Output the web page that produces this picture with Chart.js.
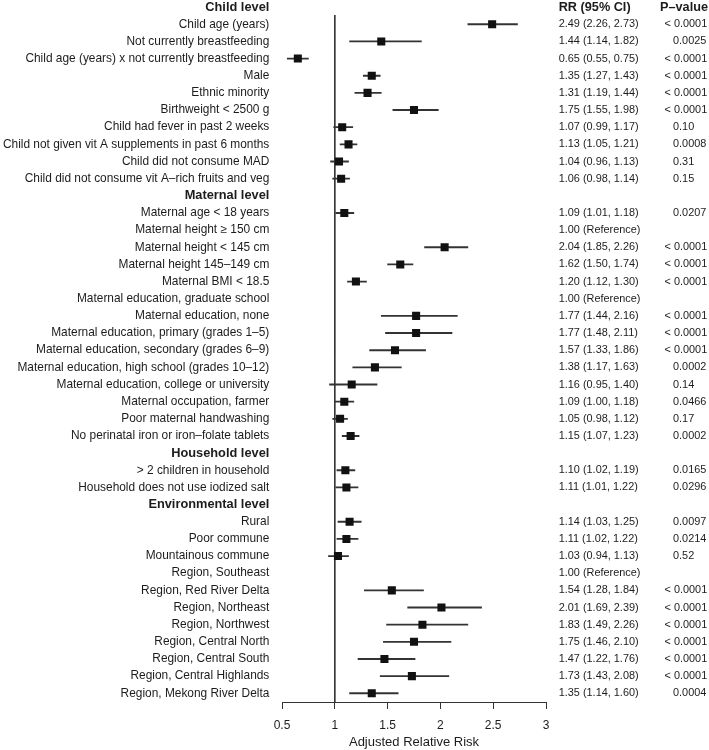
<!DOCTYPE html>
<html>
<head>
<meta charset="utf-8">
<script src="https://cdn.jsdelivr.net/npm/chart.js@4.4.1/dist/chart.umd.min.js"></script>
<style>
  html, body { margin: 0; padding: 0; background: #fff; }
</style>
</head>
<body>
<canvas id="forestChart" width="709" height="750"></canvas>
<script>
// rows, top to bottom
const rowLabels = [
  'Child level',
  'Child age (years)',
  'Not currently breastfeeding',
  'Child age (years) x not currently breastfeeding',
  'Male',
  'Ethnic minority',
  'Birthweight < 2500 g',
  'Child had fever in past 2 weeks',
  'Child not given vit A supplements in past 6 months',
  'Child did not consume MAD',
  'Child did not consume vit A\u2013rich fruits and veg',
  'Maternal level',
  'Maternal age < 18 years',
  'Maternal height \u2265 150 cm',
  'Maternal height < 145 cm',
  'Maternal height 145\u2013149 cm',
  'Maternal BMI < 18.5',
  'Maternal education, graduate school',
  'Maternal education, none',
  'Maternal education, primary (grades 1\u20135)',
  'Maternal education, secondary (grades 6\u20139)',
  'Maternal education, high school (grades 10\u201312)',
  'Maternal education, college or university',
  'Maternal occupation, farmer',
  'Poor maternal handwashing',
  'No perinatal iron or iron\u2013folate tablets',
  'Household level',
  '> 2 children in household',
  'Household does not use iodized salt',
  'Environmental level',
  'Rural',
  'Poor commune',
  'Mountainous commune',
  'Region, Southeast',
  'Region, Red River Delta',
  'Region, Northeast',
  'Region, Northwest',
  'Region, Central North',
  'Region, Central South',
  'Region, Central Highlands',
  'Region, Mekong River Delta'
];

const headerRows = ['Child level', 'Maternal level', 'Household level', 'Environmental level'];
const referenceRows = ['Maternal height \u2265 150 cm', 'Maternal education, graduate school', 'Region, Southeast'];

// adjusted RR and 95% CI (null = header / reference row)
const rr = [null, 2.49, 1.44, 0.65, 1.35, 1.31, 1.75, 1.07, 1.13, 1.04, 1.06,
  null, 1.09, null, 2.04, 1.62, 1.20, null, 1.77, 1.77, 1.57, 1.38, 1.16, 1.09, 1.05, 1.15,
  null, 1.10, 1.11,
  null, 1.14, 1.11, 1.03, null, 1.54, 2.01, 1.83, 1.75, 1.47, 1.73, 1.35];
const ciLow = [null, 2.26, 1.14, 0.55, 1.27, 1.19, 1.55, 0.99, 1.05, 0.96, 0.98,
  null, 1.01, null, 1.85, 1.50, 1.12, null, 1.44, 1.48, 1.33, 1.17, 0.95, 1.00, 0.98, 1.07,
  null, 1.02, 1.01,
  null, 1.03, 1.02, 0.94, null, 1.28, 1.69, 1.49, 1.46, 1.22, 1.43, 1.14];
const ciHigh = [null, 2.73, 1.82, 0.75, 1.43, 1.44, 1.98, 1.17, 1.21, 1.13, 1.14,
  null, 1.18, null, 2.26, 1.74, 1.30, null, 2.16, 2.11, 1.86, 1.63, 1.40, 1.18, 1.12, 1.23,
  null, 1.19, 1.22,
  null, 1.25, 1.22, 1.13, null, 1.84, 2.39, 2.26, 2.10, 1.76, 2.08, 1.60];
const pValues = ['', '< 0.0001', '0.0025', '< 0.0001', '< 0.0001', '< 0.0001', '< 0.0001', '0.10', '0.0008', '0.31', '0.15',
  '', '0.0207', '', '< 0.0001', '< 0.0001', '< 0.0001', '', '< 0.0001', '< 0.0001', '< 0.0001', '0.0002', '0.14', '0.0466', '0.17', '0.0002',
  '', '0.0165', '0.0296',
  '', '0.0097', '0.0214', '0.52', '', '< 0.0001', '< 0.0001', '< 0.0001', '< 0.0001', '< 0.0001', '< 0.0001', '0.0004'];

const xTicks = [0.5, 1, 1.5, 2, 2.5, 3];

const FONT = "'Liberation Sans', Arial, Helvetica, sans-serif";
const TEXT = '#1c1c1c';
const LINE = '#333';

const isHeader = i => headerRows.includes(rowLabels[i]);

const ciData = [];
const pointData = [];
rowLabels.forEach((lab, i) => {
  if (rr[i] === null) return;
  ciData.push({ y: i, x: [ciLow[i], ciHigh[i]] });
  pointData.push({ x: rr[i], y: i });
});

function rrText(i) {
  if (referenceRows.includes(rowLabels[i])) return '1.00 (Reference)';
  if (rr[i] === null) return '';
  return rr[i].toFixed(2) + ' (' + ciLow[i].toFixed(2) + ', ' + ciHigh[i].toFixed(2) + ')';
}

// RR / P-value columns on the right
const tableColumns = {
  id: 'tableColumns',
  afterDraw(chart) {
    const { ctx, chartArea, scales: { y } } = chart;
    const rrX = chartArea.right + 12.7;
    const pX = chartArea.right + 127;
    ctx.save();
    ctx.fillStyle = TEXT;
    ctx.textBaseline = 'middle';
    ctx.textAlign = 'left';
    const y0 = y.getPixelForValue(0);
    ctx.font = 'bold 12.7px ' + FONT;
    ctx.fillText('RR (95% CI)', rrX, y0);
    ctx.fillText('P\u2013value', pX - 13, y0);
    ctx.font = '10.9px ' + FONT;
    rowLabels.forEach((lab, i) => {
      const py = y.getPixelForValue(i);
      const t = rrText(i);
      if (t) ctx.fillText(t, rrX, py);
      const p = pValues[i];
      if (p) ctx.fillText(p, p.startsWith('<') ? pX - 8.5 : pX, py);
    });
    ctx.restore();
  }
};

Chart.defaults.font.family = FONT;
Chart.defaults.color = TEXT;

new Chart(document.getElementById('forestChart'), {
  type: 'scatter',
  data: {
    datasets: [
      {
        type: 'line',
        data: [{ x: 1, y: 0.46 }, { x: 1, y: 40.507 }],
        borderColor: LINE,
        borderWidth: 1,
        pointRadius: 0,
        order: 3
      },
      {
        type: 'bar',
        indexAxis: 'y',
        data: ciData,
        backgroundColor: LINE,
        borderWidth: 0,
        barThickness: 1.2,
        order: 2
      },
      {
        type: 'scatter',
        data: pointData,
        pointStyle: 'rect',
        pointRadius: 5.7,
        backgroundColor: '#111',
        borderWidth: 0,
        order: 1
      }
    ]
  },
  options: {
    responsive: false,
    animation: false,
    layout: { padding: { left: 0, right: 163, top: 0, bottom: 0 } },
    plugins: {
      legend: { display: false },
      tooltip: { enabled: false }
    },
    scales: {
      x: {
        type: 'linear',
        min: 0.5,
        max: 3,
        offset: false,
        afterBuildTicks: s => { s.ticks = xTicks.map(v => ({ value: v })); },
        afterFit: s => { s.height = 48; },
        ticks: { font: { size: 12 }, color: TEXT, padding: 9, callback: v => String(v) },
        grid: { drawOnChartArea: false, drawTicks: true, tickLength: 7, color: LINE, offset: false },
        border: { display: true, color: LINE, width: 1 },
        title: {
          display: true,
          text: 'Adjusted Relative Risk',
          font: { size: 13 },
          color: TEXT,
          padding: { top: 0, bottom: 0 }
        }
      },
      y: {
        type: 'linear',
        reverse: true,
        offset: false,
        min: -0.082,
        max: 40.507,
        afterBuildTicks: s => { s.ticks = rowLabels.map((_, i) => ({ value: i })); },
        afterFit: s => { s.width = 282; s.paddingTop = 0; s.paddingBottom = 0; },
        ticks: {
          autoSkip: false,
          padding: 12.7,
          color: TEXT,
          callback: v => rowLabels[v],
          font: c => isHeader(c.index) ? { size: 12.8, weight: 'bold' } : { size: 11.9 }
        },
        grid: { display: false, drawTicks: false, offset: false },
        border: { display: false }
      }
    }
  },
  plugins: [tableColumns]
});
</script>
</body>
</html>
